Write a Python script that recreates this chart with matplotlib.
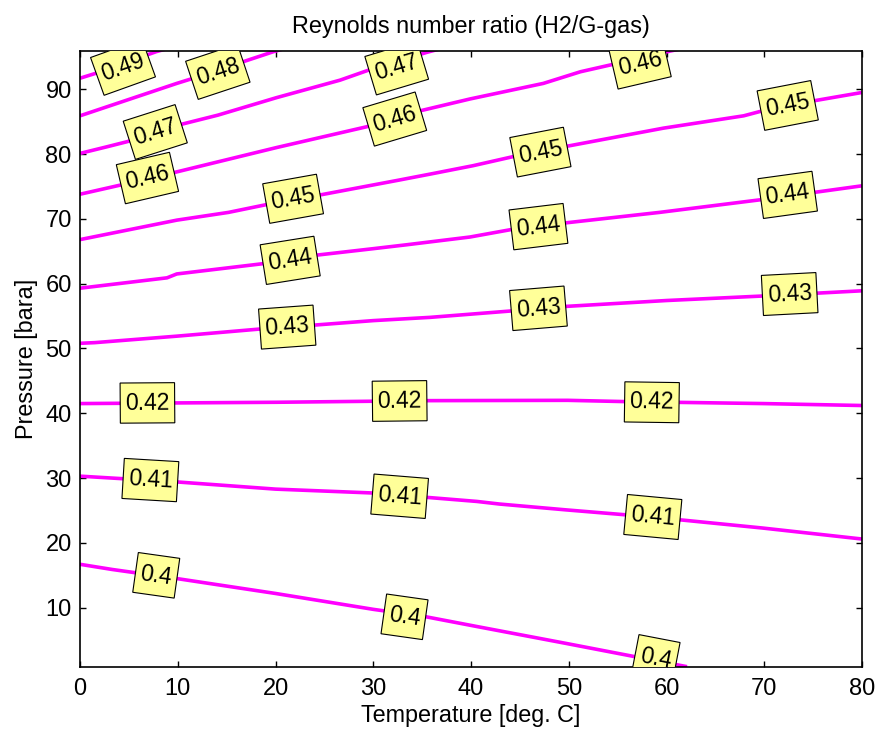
import numpy as np
import matplotlib.pyplot as plt

plt.rcParams['font.family'] = ['Liberation Sans', 'DejaVu Sans']

# contour lines: temperature [deg C] -> pressure [bara]
t_040 = [0, 3.3, 9.9, 20, 30, 35.4, 40.6, 49.7, 62.1]
p_040 = [16.7, 15.9, 14.5, 12.2, 9.75, 8.6, 7.1, 4.5, 0.9]

t_041 = [0, 10, 20, 30, 40.6, 42.9, 49.7, 56.1, 61.8, 69.8, 80]
p_041 = [30.3, 29.4, 28.3, 27.7, 26.4, 26.0, 25.1, 24.3, 23.5, 22.3, 20.6]

t_042 = [0, 10, 20.1, 35.5, 49.9, 55.9, 69.9, 80]
p_042 = [41.5, 41.6, 41.7, 41.95, 42.0, 41.8, 41.5, 41.2]

t_043 = [0, 1.5, 9.9, 18.4, 23.9, 30, 35.8, 44.2, 49.8, 60, 69.9, 80]
p_043 = [50.8, 50.9, 51.9, 53.0, 53.6, 54.3, 54.8, 55.8, 56.5, 57.4, 58.1, 58.9]

t_044 = [0, 8.9, 9.9, 18.8, 24.2, 30, 33.4, 39.9, 44.3, 49.8, 59.3, 69.9, 80]
p_044 = [59.3, 60.9, 61.5, 63.1, 64.4, 65.4, 66.0, 67.2, 68.4, 69.4, 71.0, 73.0, 75.1]

t_045 = [0, 9.9, 15.2, 19.4, 24.6, 32.7, 35.8, 40.2, 44.3, 49.8, 59.7, 67.9, 69.9, 75.4, 80]
p_045 = [66.8, 69.8, 71.0, 72.3, 73.7, 76.0, 76.9, 78.2, 79.6, 81.2, 84.0, 85.9, 86.7, 88.3, 89.5]

t_046 = [0, 4.1, 9.5, 20.1, 29.3, 34.6, 39.9, 47.4, 51.2, 55, 60.4, 62]
p_046 = [73.8, 75.2, 77.1, 81.0, 84.2, 86.6, 88.5, 90.9, 92.7, 94.0, 95.9, 96.4]

t_047 = [0, 2.7, 4.8, 10.4, 14.1, 20.1, 26.6, 30, 35.5, 37]
p_047 = [80.1, 81.1, 81.9, 84.6, 86.0, 88.7, 91.4, 93.2, 95.7, 96.3]

t_048 = [0, 9.9, 11.6, 17.2, 19.8, 21]
p_048 = [85.9, 90.9, 91.7, 94.5, 95.8, 96.3]

t_049 = [0, 1.7, 7.8, 9]
p_049 = [91.7, 92.5, 95.8, 96.3]

levels = ['0.4', '0.41', '0.42', '0.43', '0.44', '0.45', '0.46', '0.47', '0.48', '0.49']
line_t = [t_040, t_041, t_042, t_043, t_044, t_045, t_046, t_047, t_048, t_049]
line_p = [p_040, p_041, p_042, p_043, p_044, p_045, p_046, p_047, p_048, p_049]

# inline label positions (level index, temperature, pressure)
label_lvl = [0, 0, 0, 1, 1, 1, 2, 2, 2, 3, 3, 3, 4, 4, 4, 5, 5, 5, 6, 6, 6, 7, 7, 8, 9]
label_t = [7.8, 33.2, 58.9, 7.2, 32.7, 58.6, 6.9, 32.7, 58.5, 21.2, 46.9, 72.6,
           21.5, 46.9, 72.4, 21.8, 47.1, 72.4, 6.9, 32.2, 57.3, 7.7, 32.4, 14.1, 4.4]
label_p = [15.0, 8.6, 2.2, 29.7, 27.2, 24.0, 41.6, 41.9, 41.7, 53.3, 56.2, 58.4,
           63.6, 68.8, 73.7, 73.1, 80.3, 87.5, 76.3, 85.4, 94.0, 83.4, 93.3, 92.7, 93.4]

fig = plt.figure(figsize=(8.77, 7.29), dpi=100, facecolor='white')
ax = fig.add_axes([80 / 877, 62.3 / 729, 782 / 877, 615.7 / 729])

for t, p in zip(line_t, line_p):
    ax.plot(t, p, color='#ff00ff', lw=2.6, solid_capstyle='butt', clip_on=True)

ax.set_xlim(0, 80)
ax.set_ylim(0.9, 95.9)

# rotate each label along its line, measured in screen space
for lvl, t0, p0 in zip(label_lvl, label_t, label_p):
    t, p = line_t[lvl], line_p[lvl]
    pa = np.interp(t0 - 1.5, t, p)
    pb = np.interp(t0 + 1.5, t, p)
    xa, ya = ax.transData.transform((t0 - 1.5, pa))
    xb, yb = ax.transData.transform((t0 + 1.5, pb))
    ang = np.degrees(np.arctan2(yb - ya, xb - xa))
    ax.text(t0, p0, levels[lvl], fontsize=16.5, ha='center', va='center',
            rotation=ang, rotation_mode='anchor', clip_on=True, zorder=5,
            bbox=dict(boxstyle='square,pad=0.22', fc='#ffff99', ec='black',
                      lw=0.8, mutation_aspect=1.7))

ax.set_xticks(np.arange(0, 81, 10))
ax.set_yticks(np.arange(10, 91, 10))
ax.tick_params(direction='in', top=True, right=True, length=4, width=1,
               labelsize=17)
ax.tick_params(axis='x', pad=8)
ax.tick_params(axis='y', pad=6)
for s in ax.spines.values():
    s.set_linewidth(1.2)

ax.set_title('Reynolds number ratio (H2/G-gas)', fontsize=16.8, pad=13)
ax.set_xlabel('Temperature [deg. C]', fontsize=16.8, labelpad=3)
ax.set_ylabel('Pressure [bara]', fontsize=16.8, labelpad=5)

fig.savefig('out.png', dpi=100, facecolor='white')
